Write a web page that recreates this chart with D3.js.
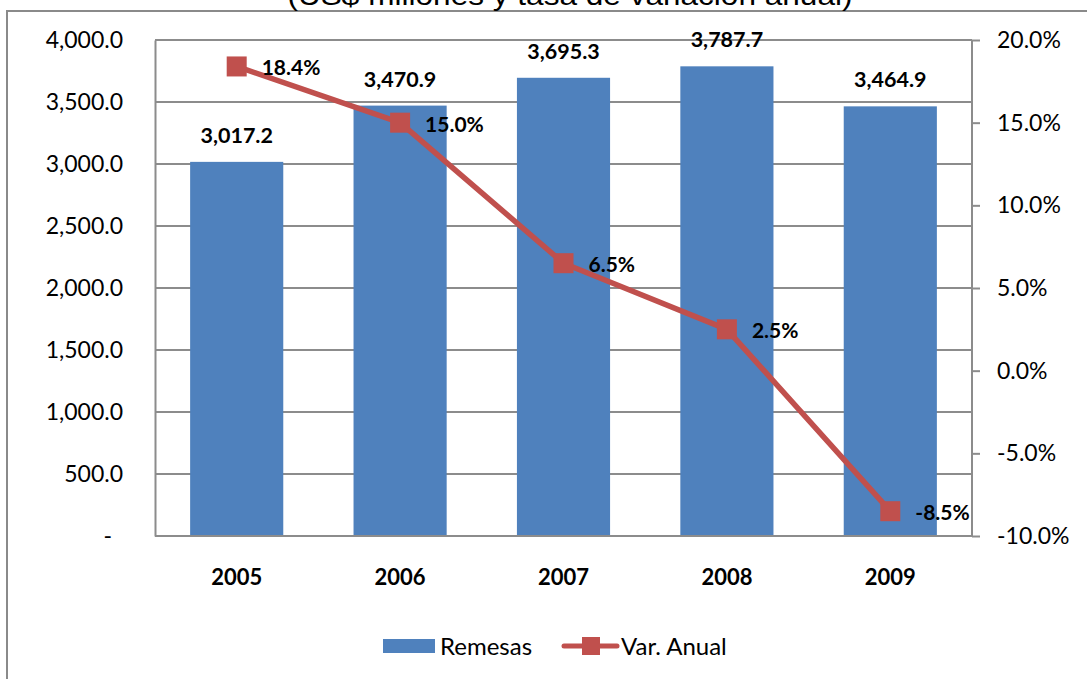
<!DOCTYPE html>
<html>
<head>
<meta charset="utf-8">
<script src="https://cdn.jsdelivr.net/npm/d3@7"></script>
<style>
  html, body { margin: 0; padding: 0; background: #ffffff; overflow: hidden; }
  svg { display: block; }
</style>
</head>
<body>
<svg id="chart" width="1087" height="679"></svg>
<script>
// ---- Data ----
const years = ["2005", "2006", "2007", "2008", "2009"];
const remesas = [3017.2, 3470.9, 3695.3, 3787.7, 3464.9];
const varAnual = [18.4, 15.0, 6.5, 2.5, -8.5];
const leftTicks = [0, 500, 1000, 1500, 2000, 2500, 3000, 3500, 4000];
const rightTicks = [-10, -5, 0, 5, 10, 15, 20];
const titleText = "(US$ millones y tasa de variación anual)";
const legendLabels = ["Remesas", "Var. Anual"];

// ---- Layout ----
const plot = { left: 155, right: 972, top: 40, bottom: 536 };
const barColor = "#4F81BD";
const lineColor = "#C0504D";
const gridColor = "#8C8C8C";
const font = "Lato, 'Open Sans', sans-serif";

const loc = d3.formatLocale({ decimal: ".", thousands: ",", grouping: [3], currency: ["$", ""], minus: "-" });
const fmtNum = loc.format(",.1f");
const fmtPct = d => loc.format(".1f")(d) + "%";

const svg = d3.select("#chart");

// Outer chart border
svg.append("rect")
  .attr("x", 7).attr("y", 11)
  .attr("width", 1200).attr("height", 800)
  .attr("fill", "none")
  .attr("stroke", "#8a8a8a")
  .attr("stroke-width", 2);

// Title (partially clipped at top, as in the reference)
svg.append("text")
  .attr("x", 570).attr("y", 5)
  .attr("text-anchor", "middle")
  .attr("font-family", "'Liberation Sans', Arial, sans-serif")
  .attr("font-size", 28)
  .attr("textLength", 565)
  .attr("lengthAdjust", "spacingAndGlyphs")
  .attr("fill", "#000")
  .text(titleText);

// Scales
const x = d3.scaleBand()
  .domain(years)
  .range([plot.left, plot.right])
  .paddingInner(0.43)
  .paddingOuter(0.215);

const yL = d3.scaleLinear().domain([0, 4000]).range([plot.bottom, plot.top]);
const yR = d3.scaleLinear().domain([-10, 20]).range([plot.bottom, plot.top]);

// Gridlines
svg.append("g")
  .selectAll("line")
  .data(leftTicks.filter(d => d > 0))
  .join("line")
  .attr("x1", plot.left).attr("x2", plot.right)
  .attr("y1", d => yL(d)).attr("y2", d => yL(d))
  .attr("stroke", gridColor).attr("stroke-width", 2);

// Bars
svg.append("g")
  .selectAll("rect")
  .data(years)
  .join("rect")
  .attr("x", d => x(d))
  .attr("width", x.bandwidth())
  .attr("y", (d, i) => yL(remesas[i]))
  .attr("height", (d, i) => yL(0) - yL(remesas[i]))
  .attr("fill", barColor);

// Left axis
const leftAxis = svg.append("g")
  .attr("transform", `translate(${plot.left},0)`)
  .call(d3.axisLeft(yL).tickValues(leftTicks).tickSize(0).tickPadding(32)
    .tickFormat(d => d === 0 ? "-" : fmtNum(d)));
leftAxis.select(".domain").attr("stroke", gridColor).attr("stroke-width", 2);
leftAxis.selectAll("text")
  .attr("font-family", font).attr("font-size", 23).attr("fill", "#000");
leftAxis.selectAll(".tick").filter(d => d === 0).select("text").attr("dx", -11);

// Right axis
const rightAxis = svg.append("g")
  .attr("transform", `translate(${plot.right},0)`)
  .call(d3.axisRight(yR).tickValues(rightTicks).tickSize(8).tickPadding(17)
    .tickFormat(fmtPct));
rightAxis.select(".domain").attr("stroke", gridColor).attr("stroke-width", 2)
  .attr("d", `M0,${plot.top}V${plot.bottom}`);
rightAxis.selectAll(".tick line").attr("stroke", gridColor).attr("stroke-width", 2);
rightAxis.selectAll("text")
  .attr("font-family", font).attr("font-size", 23).attr("fill", "#000");

// Bottom axis
const bottomAxis = svg.append("g")
  .attr("transform", `translate(0,${plot.bottom})`)
  .call(d3.axisBottom(x).tickSize(0).tickPadding(33));
bottomAxis.select(".domain").attr("stroke", gridColor).attr("stroke-width", 2)
  .attr("d", `M${plot.left},0H${plot.right}`);
bottomAxis.selectAll("text")
  .attr("font-family", font).attr("font-size", 22).attr("font-weight", "bold").attr("fill", "#000");

// Bar value labels
svg.append("g")
  .selectAll("text")
  .data(years)
  .join("text")
  .attr("x", d => x(d) + x.bandwidth() / 2)
  .attr("y", (d, i) => yL(remesas[i]) - 19)
  .attr("text-anchor", "middle")
  .attr("font-family", font).attr("font-size", 21.5).attr("font-weight", "bold")
  .attr("fill", "#000")
  .text((d, i) => fmtNum(remesas[i]));

// Line
const cx = d => x(d) + x.bandwidth() / 2;
const line = d3.line()
  .x((d, i) => cx(years[i]))
  .y(d => yR(d));
svg.append("path")
  .datum(varAnual)
  .attr("d", line)
  .attr("fill", "none")
  .attr("stroke", lineColor)
  .attr("stroke-width", 5.5)
  .attr("stroke-linejoin", "round");

// Markers
svg.append("g")
  .selectAll("rect")
  .data(varAnual)
  .join("rect")
  .attr("x", (d, i) => cx(years[i]) - 10)
  .attr("y", d => yR(d) - 10)
  .attr("width", 20).attr("height", 20)
  .attr("fill", lineColor);

// Line labels
svg.append("g")
  .selectAll("text")
  .data(varAnual)
  .join("text")
  .attr("x", (d, i) => cx(years[i]) + 25)
  .attr("y", d => yR(d) + 9)
  .attr("font-family", font).attr("font-size", 21).attr("font-weight", "bold")
  .attr("fill", "#000")
  .text(fmtPct);

// Legend
const lg = svg.append("g");
lg.append("rect")
  .attr("x", 383).attr("y", 639).attr("width", 52).attr("height", 14)
  .attr("fill", barColor);
lg.append("text")
  .attr("x", 440).attr("y", 655)
  .attr("font-family", font).attr("font-size", 24).attr("fill", "#000")
  .text(legendLabels[0]);
lg.append("line")
  .attr("x1", 564).attr("x2", 617).attr("y1", 646).attr("y2", 646)
  .attr("stroke", lineColor).attr("stroke-width", 5).attr("stroke-linecap", "round");
lg.append("rect")
  .attr("x", 582).attr("y", 637).attr("width", 18).attr("height", 18)
  .attr("fill", lineColor);
lg.append("text")
  .attr("x", 621).attr("y", 655)
  .attr("font-family", font).attr("font-size", 24).attr("fill", "#000")
  .text(legendLabels[1]);
</script>
</body>
</html>
